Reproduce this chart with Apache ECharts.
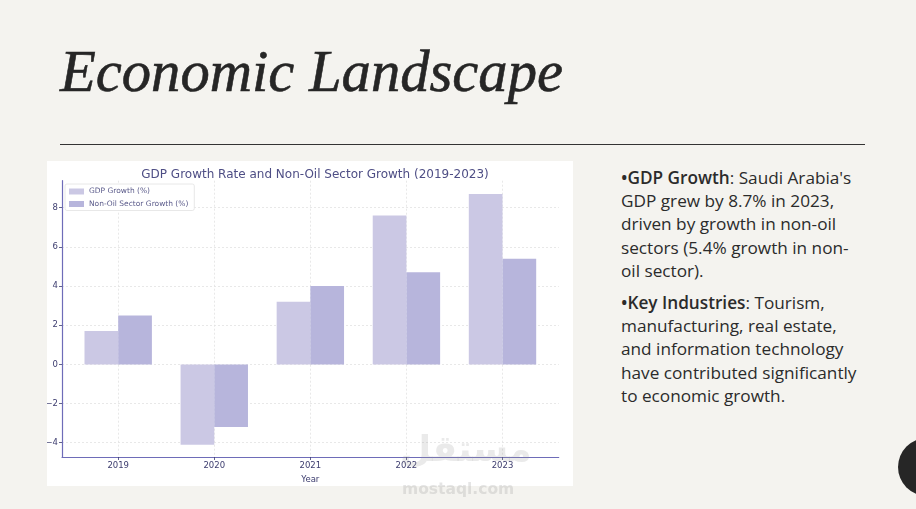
<!DOCTYPE html>
<html><head><meta charset="utf-8">
<script src="https://cdn.jsdelivr.net/npm/echarts@6/dist/echarts.min.js"></script>
<style>
html,body{margin:0;padding:0;}
body{width:916px;height:509px;background:#f4f3ef;position:relative;overflow:hidden;}
#title{position:absolute;left:60px;top:41px;font-family:"Liberation Serif",serif;font-style:italic;font-size:60px;color:#262626;white-space:nowrap;transform-origin:0 0;line-height:1;-webkit-text-stroke:0.6px #262626;}
#rule{position:absolute;left:60px;top:144px;width:805px;height:1px;background:#333;}
#chart{position:absolute;left:47px;top:161px;width:526px;height:325px;background:#fff;}
#text{position:absolute;left:621px;top:166px;font-family:"Open Sans",sans-serif;font-size:17.2px;line-height:23.2px;color:#2b2b2b;white-space:nowrap;}
#text p{margin:0 0 9px 0;}
#text b{font-weight:600;}
#dot{position:absolute;left:898px;top:438px;width:58px;height:58px;border-radius:50%;background:#262626;}
#wm1{position:absolute;left:400px;top:428px;font-family:"DejaVu Sans",sans-serif;font-weight:bold;font-size:36px;color:rgba(150,150,150,0.2);direction:rtl;}
#wm2{position:absolute;left:402px;top:480px;font-family:"DejaVu Sans",sans-serif;font-weight:bold;font-size:15.5px;color:rgba(150,150,150,0.25);}
</style></head>
<body>
<div id="title">Economic Landscape</div>
<div id="rule"></div>
<div id="chart"></div>
<div id="text">
<p><b>•GDP Growth</b>: Saudi Arabia's<br>GDP grew by 8.7% in 2023,<br>driven by growth in non-oil<br>sectors (5.4% growth in non-<br>oil sector).</p>
<p><b>•Key Industries</b>: Tourism,<br>manufacturing, real estate,<br>and information technology<br>have contributed significantly<br>to economic growth.</p>
</div>
<div id="wm1">مستقل</div>
<div id="wm2">mostaql.com</div>
<div id="dot"></div>
<script>
const years = ['2019','2020','2021','2022','2023'];
const gdpGrowth = [1.7, -4.1, 3.2, 7.6, 8.7];
const nonOilGrowth = [2.5, -3.2, 4.0, 4.7, 5.4];
const chartTitle = 'GDP Growth Rate and Non-Oil Sector Growth (2019-2023)';
const seriesNames = ['GDP Growth (%)', 'Non-Oil Sector Growth (%)'];

// fit title width
const t = document.getElementById('title');
const w = t.getBoundingClientRect().width;
t.style.transform = 'scaleX(' + (503 / w) + ')';

const fontFam = '"DejaVu Sans", sans-serif';
const txt = '#3c3c6e';
const spine = '#6e6cb8';
const chart = echarts.init(document.getElementById('chart'), null, {renderer: 'canvas'});
chart.setOption({
  animation: false,
  backgroundColor: '#fff',
  title: {text: chartTitle, left: 263, top: 3, textAlign: 'center',
    textStyle: {fontFamily: fontFam, fontSize: 12, fontWeight: 'normal', color: '#4e4e85'}},
  legend: {orient: 'vertical', left: 18, top: 23, itemWidth: 15, itemHeight: 6, itemGap: 3.5,
    padding: [3, 6, 2, 4], backgroundColor: '#fff', borderColor: '#e2e2e2', borderWidth: 0.8, borderRadius: 2,
    textStyle: {fontFamily: fontFam, fontSize: 7.5, color: '#5a5a8a', lineHeight: 9},
    data: seriesNames.map(n => ({name: n, icon: 'rect'}))},
  grid: {left: 15, right: 14.3, top: 19.7, bottom: 29, containLabel: false, outerBoundsMode: 'none'},
  xAxis: {type: 'value', min: -0.585, max: 4.585,
    name: 'Year', nameLocation: 'middle', nameGap: 12,
    nameTextStyle: {fontFamily: fontFam, fontSize: 8.5, color: txt},
    axisLine: {show: true, onZero: false, lineStyle: {color: spine, width: 1.2}},
    axisTick: {show: true, length: 3, lineStyle: {color: txt, width: 0.8}},
    axisLabel: {showMinLabel: false, showMaxLabel: false, margin: 4,
      fontFamily: fontFam, fontSize: 8.5, color: txt,
      formatter: v => (Number.isInteger(v) && years[v]) ? years[v] : ''},
    splitLine: {show: true, showMinLine: false, showMaxLine: false,
      lineStyle: {color: '#e3e3e3', width: 0.8, type: [2, 2]}}},
  yAxis: {type: 'value', min: -4.73, max: 9.38, splitNumber: 7,
    axisLine: {show: true, onZero: false, lineStyle: {color: spine, width: 1.2}},
    axisTick: {show: true, length: 3, lineStyle: {color: txt, width: 0.8}},
    axisLabel: {showMinLabel: false, showMaxLabel: false, margin: 4,
      fontFamily: fontFam, fontSize: 8.5, color: txt,
      formatter: v => v < 0 ? '\u2212' + (-v) : String(v)},
    splitLine: {show: true, showMinLine: false, showMaxLine: false,
      lineStyle: {color: '#e3e3e3', width: 0.8, type: [2, 2]}}},
  series: [
    {name: seriesNames[0], type: 'bar', barWidth: 33.7, barGap: '0%',
      itemStyle: {color: '#cbc8e4'},
      data: years.map((y, i) => [i, gdpGrowth[i]])},
    {name: seriesNames[1], type: 'bar', barWidth: 33.7, barGap: '0%',
      itemStyle: {color: '#b7b5dc'},
      data: years.map((y, i) => [i, nonOilGrowth[i]])}
  ]
});
</script>
</body></html>
